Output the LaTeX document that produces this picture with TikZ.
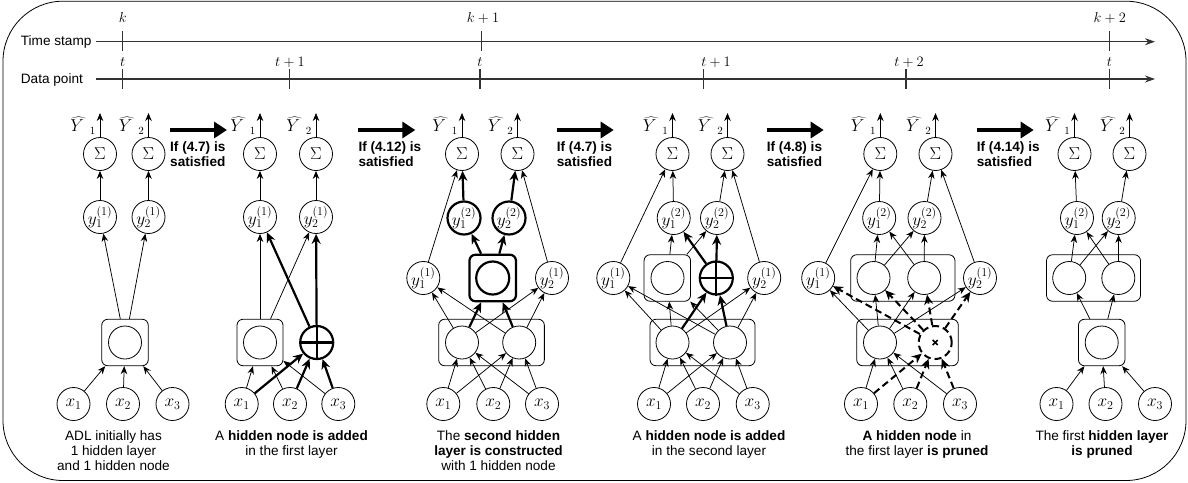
\documentclass[tikz,border=0pt]{standalone}
\usepackage{fontspec}
\newfontfamily\lsans{Liberation Sans}
\usetikzlibrary{arrows.meta}
\tikzset{
 nrn/.style={circle,draw,line width=0.8pt,minimum size=33pt,inner sep=0pt,font=\fontsize{17}{19}\selectfont},
 bnrn/.style={nrn,line width=2.2pt},
 dnrn/.style={nrn,line width=2pt,dash pattern=on 7pt off 4pt},
 lbox/.style={draw,rounded corners=6pt,line width=0.8pt,minimum height=46.5pt,inner sep=0pt},
 bbox/.style={lbox,line width=2.2pt},
 arr/.style={line width=0.75pt,-{Stealth[length=8pt,width=6.5pt]}},
 barr/.style={line width=2.2pt,-{Stealth[length=10pt,width=9pt]}},
 darr/.style={line width=2pt,dash pattern=on 7pt off 4pt,-{Stealth[length=10pt,width=9pt]}},
 bigarr/.style={line width=4pt,-{Triangle[length=13pt,width=16pt]}},
 tl/.style={line width=1.1pt,black!80,-{Stealth[length=10pt,width=7pt]}},
 tick/.style={line width=1.1pt,black!80},
 capt/.style={anchor=north,align=center,font=\lsans\fontsize{13.6}{15.3}\selectfont,inner sep=0pt},
 cond/.style={anchor=north west,align=left,font=\lsans\bfseries\fontsize{13.6}{15.3}\selectfont,inner sep=0pt},
 yhat/.style={anchor=base east,inner sep=0pt,font=\fontsize{16}{18}\selectfont},
 tlab/.style={anchor=base,inner sep=0pt,font=\fontsize{15}{17}\selectfont},
 side/.style={anchor=base west,inner sep=0pt,font=\lsans\fontsize{13.6}{15.3}\selectfont},
}
\newcommand{\toppart}[3]{%
 \node[nrn] (#1s1) at (#2,154) {$\Sigma$};
 \node[nrn] (#1s2) at (#3,154) {$\Sigma$};
 \coordinate (#1o1) at (#2,113);
 \coordinate (#1o2) at (#3,113);
 \draw[arr] (#1s1) -- (#1o1);
 \draw[arr] (#1s2) -- (#1o2);
 \node[yhat] (#1l1) at (#2-4,131.5) {$\widehat{Y\,}\,{}_1$};
 \node[yhat] (#1l2) at (#3-4,131.5) {$\widehat{Y\,}\,{}_2$};
}
\newcommand{\inputs}[4]{%
 \node[nrn] (#1x1) at (#2,404) {$x_1$};
 \node[nrn] (#1x2) at (#3,404) {$x_2$};
 \node[nrn] (#1x3) at (#4,404) {$x_3$};
}
\begin{document}
\begin{tikzpicture}[x=1pt,y=-1pt]
\useasboundingbox (0,0) rectangle (1188,482);
\draw[line width=0.8pt,rounded corners=60pt] (3,1.2) rectangle (1186,480.5);

% ---------- timeline ----------
\node[side] (ts) at (20.7,45.7) {Time stamp};
\node[side] (dp) at (20.7,83) {Data point};
\coordinate (tsa) at (96,41.7);
\coordinate (tsb) at (1155,41.7);
\coordinate (dpa) at (96,79);
\coordinate (dpb) at (1155,79);
\draw[tl] (tsa) -- (tsb);
\draw[tl] (dpa) -- (dpb);
\foreach \xx in {122.7,481.7,1109.3} \draw[tick] (\xx,31) -- (\xx,51);
\foreach \xx in {122.7,289.3,480,703.3,906,1109.3} \draw[tick] (\xx,69) -- (\xx,89);
\node[tlab] (k0) at (122.7,22.7) {$k$};
\node[tlab] (k1) at (483,22.7) {$k+1$};
\node[tlab] (k2) at (1109.7,22.7) {$k+2$};
\node[tlab] (t0) at (122.7,66) {$t$};
\node[tlab] (t1) at (290,66) {$t+1$};
\node[tlab] (t2) at (480,66) {$t$};
\node[tlab] (t3) at (716,66) {$t+1$};
\node[tlab] (t4) at (909,66) {$t+2$};
\node[tlab] (t5) at (1109.3,66) {$t$};

% ---------- transition arrows ----------
\foreach \xa/\lab [count=\i] in {170/4.7,358.3/4.12,556.7/4.7,766.7/4.8,976.7/4.14}{
 \coordinate (ga\i) at (\xa,130);
 \coordinate (gb\i) at (\xa+57,130);
 \draw[bigarr] (ga\i) -- (gb\i);
 \node[cond] (gc\i) at (\xa,141) {If (\lab) is\\satisfied};
}

% ---------- Panel 1 ----------
\toppart{pa}{100}{148.5}
\node[nrn] (pay1) at (100,217) {$y_1^{(1)}$};
\node[nrn] (pay2) at (148.5,217) {$y_2^{(1)}$};
\node[lbox,minimum width=46.5pt] (pab) at (125,342.5) {};
\node[nrn] (pah) at (125,342.5) {};
\inputs{pa}{73.5}{123}{172.5}
\draw[arr] (pay1) -- (pas1);
\draw[arr] (pay2) -- (pas2);
\draw[arr] (pab) -- (pay1);
\draw[arr] (pab) -- (pay2);
\foreach \i in {1,2,3} \draw[arr] (pax\i) -- (pab);
\node[capt] (pac) at (113.5,430) {ADL initially has\\1 hidden layer\\and 1 hidden node};

% ---------- Panel 2 ----------
\toppart{pb}{260}{316}
\node[nrn] (pby1) at (260,217) {$y_1^{(1)}$};
\node[nrn] (pby2) at (316,217) {$y_2^{(1)}$};
\node[lbox,minimum width=46pt] (pbb) at (260,342.5) {};
\node[nrn] (pbh1) at (260,342.5) {};
\node[bnrn] (pbh2) at (316.7,342.5) {};
\draw[line width=2.2pt] (pbh2.north) -- (pbh2.south) (pbh2.west) -- (pbh2.east);
\inputs{pb}{241.7}{290}{338.3}
\draw[arr] (pby1) -- (pbs1);
\draw[arr] (pby2) -- (pbs2);
\draw[arr] (pbb) -- (pby1);
\draw[arr] (pbb) -- (pby2);
\draw[barr] (pbh2) -- (pby1);
\draw[barr] (pbh2) -- (pby2);
\foreach \i in {1,2,3} {\draw[arr] (pbx\i) -- (pbb); \draw[barr] (pbx\i) -- (pbh2);}
\node[capt] (pbc) at (291.5,430) {A \textbf{hidden node is added}\\in the first layer};

% ---------- Panel 3 ----------
\toppart{pc}{462}{517.5}
\node[bnrn] (pcz1) at (464,218) {$y_1^{(2)}$};
\node[bnrn] (pcz2) at (509,218) {$y_2^{(2)}$};
\node[bbox,minimum width=46.5pt] (pcn) at (492.7,278) {};
\node[bnrn] (pcnc) at (492.7,278) {};
\node[nrn] (pcy1) at (423.3,278) {$y_1^{(1)}$};
\node[nrn] (pcy2) at (552,278) {$y_2^{(1)}$};
\node[lbox,minimum width=105.7pt] (pcb) at (491.5,342.5) {};
\node[nrn] (pch1) at (462,342.5) {};
\node[nrn] (pch2) at (519.2,342.5) {};
\inputs{pc}{443.3}{493.3}{542}
\draw[arr] (pcy1) -- (pcs1);
\draw[arr] (pcy2) -- (pcs2);
\draw[barr] (pcz1) -- (pcs1);
\draw[barr] (pcz2) -- (pcs2);
\draw[barr] (pcn) -- (pcz1);
\draw[barr] (pcn) -- (pcz2);
\foreach \j in {1,2} {
 \draw[barr] (pch\j) -- (pcn);
 \draw[arr] (pch\j) -- (pcy1);
 \draw[arr] (pch\j) -- (pcy2);
 \foreach \i in {1,2,3} \draw[arr] (pcx\i) -- (pch\j);
}
\node[capt] (pcc) at (498.5,430) {The \textbf{second hidden}\\\textbf{layer is constructed}\\with 1 hidden node};

% ---------- Panel 4 ----------
\toppart{pd}{672.5}{727.5}
\node[nrn] (pdz1) at (673.7,218) {$y_1^{(2)}$};
\node[nrn] (pdz2) at (717,218) {$y_2^{(2)}$};
\node[lbox,minimum width=46.5pt] (pdn) at (667.3,278) {};
\node[nrn] (pdnc) at (667.5,278) {};
\node[bnrn] (pdm) at (716.3,278) {};
\draw[line width=2.2pt] (pdm.north) -- (pdm.south) (pdm.west) -- (pdm.east);
\node[nrn] (pdy1) at (613.3,278) {$y_1^{(1)}$};
\node[nrn] (pdy2) at (764.2,278) {$y_2^{(1)}$};
\node[lbox,minimum width=105pt] (pdb) at (702.5,342.5) {};
\node[nrn] (pdh1) at (672.5,342.5) {};
\node[nrn] (pdh2) at (730,342.5) {};
\inputs{pd}{654}{703}{752.7}
\draw[arr] (pdy1) -- (pds1);
\draw[arr] (pdz1) -- (pds1);
\draw[arr] (pdz2) -- (pds2);
\draw[arr] (pdy2) -- (pds2);
\draw[arr] (pdn) -- (pdz1);
\draw[arr] (pdn) -- (pdz2);
\draw[barr] (pdm) -- (pdz1);
\draw[barr] (pdm) -- (pdz2);
\foreach \j in {1,2} {
 \draw[arr] (pdh\j) -- (pdy1);
 \draw[arr] (pdh\j) -- (pdn);
 \draw[arr] (pdh\j) -- (pdy2);
 \draw[barr] (pdh\j) -- (pdm);
 \foreach \i in {1,2,3} \draw[arr] (pdx\i) -- (pdh\j);
}
\node[capt] (pdc) at (709,430) {A \textbf{hidden node is added}\\in the second layer};

% ---------- Panel 5 ----------
\toppart{pe}{880.3}{935.5}
\node[nrn] (pez1) at (879.2,218) {$y_1^{(2)}$};
\node[nrn] (pez2) at (924.5,218) {$y_2^{(2)}$};
\node[lbox,minimum width=104.3pt] (pen) at (902.8,278) {};
\node[nrn] (pec1) at (873.5,278) {};
\node[nrn] (pec2) at (924.2,278) {};
\node[nrn] (pey1) at (818.2,278) {$y_1^{(1)}$};
\node[nrn] (pey2) at (980,278) {$y_2^{(1)}$};
\node[lbox,minimum width=101.6pt] (peb) at (907.5,342.5) {};
\node[nrn] (peh1) at (880,342.5) {};
\node[dnrn] (peh2) at (935.2,342.5) {};
\draw[line width=1.6pt] ([shift={(-2.5,-2.5)}]peh2.center) -- ([shift={(2.5,2.5)}]peh2.center)
 ([shift={(-2.5,2.5)}]peh2.center) -- ([shift={(2.5,-2.5)}]peh2.center);
\inputs{pe}{861}{910.3}{960}
\draw[arr] (pey1) -- (pes1);
\draw[arr] (pez1) -- (pes1);
\draw[arr] (pez2) -- (pes2);
\draw[arr] (pey2) -- (pes2);
\foreach \j in {1,2} {
 \draw[arr] (pec\j) -- (pez1);
 \draw[arr] (pec\j) -- (pez2);
}
\draw[arr] (peh1) -- (pey1);
\draw[arr] (peh1) -- (pec1);
\draw[arr] (peh1) -- (pec2);
\draw[arr] (peh1) -- (pey2);
\draw[darr] (peh2) -- (pey1);
\draw[darr] (peh2) -- (pec1);
\draw[darr] (peh2) -- (pec2);
\draw[darr] (peh2) -- (pey2);
\foreach \i in {1,2,3} {\draw[arr] (pex\i) -- (peh1); \draw[darr] (pex\i) -- (peh2);}
\node[capt] (pec) at (917,430) {\textbf{A hidden node} in\\the first layer \textbf{is pruned}};

% ---------- Panel 6 ----------
\toppart{pf}{1074.5}{1129.5}
\node[nrn] (pfz1) at (1077,218) {$y_1^{(2)}$};
\node[nrn] (pfz2) at (1118.7,218) {$y_2^{(2)}$};
\node[lbox,minimum width=94pt] (pfn) at (1093.5,278) {};
\node[nrn] (pfc1) at (1069.2,278) {};
\node[nrn] (pfc2) at (1118.3,278) {};
\node[lbox,minimum width=46.5pt] (pfb) at (1101.7,342.5) {};
\node[nrn] (pfh) at (1101.7,342.5) {};
\inputs{pf}{1056.5}{1105.5}{1155}
\draw[arr] (pfz1) -- (pfs1);
\draw[arr] (pfz2) -- (pfs2);
\foreach \j in {1,2} {
 \draw[arr] (pfc\j) -- (pfz1);
 \draw[arr] (pfc\j) -- (pfz2);
 \draw[arr] (pfb) -- (pfc\j);
}
\foreach \i in {1,2,3} \draw[arr] (pfx\i) -- (pfb);
\node[capt] (pfcap) at (1102,430) {The first \textbf{hidden layer}\\\textbf{is pruned}};
\end{tikzpicture}
\end{document}
